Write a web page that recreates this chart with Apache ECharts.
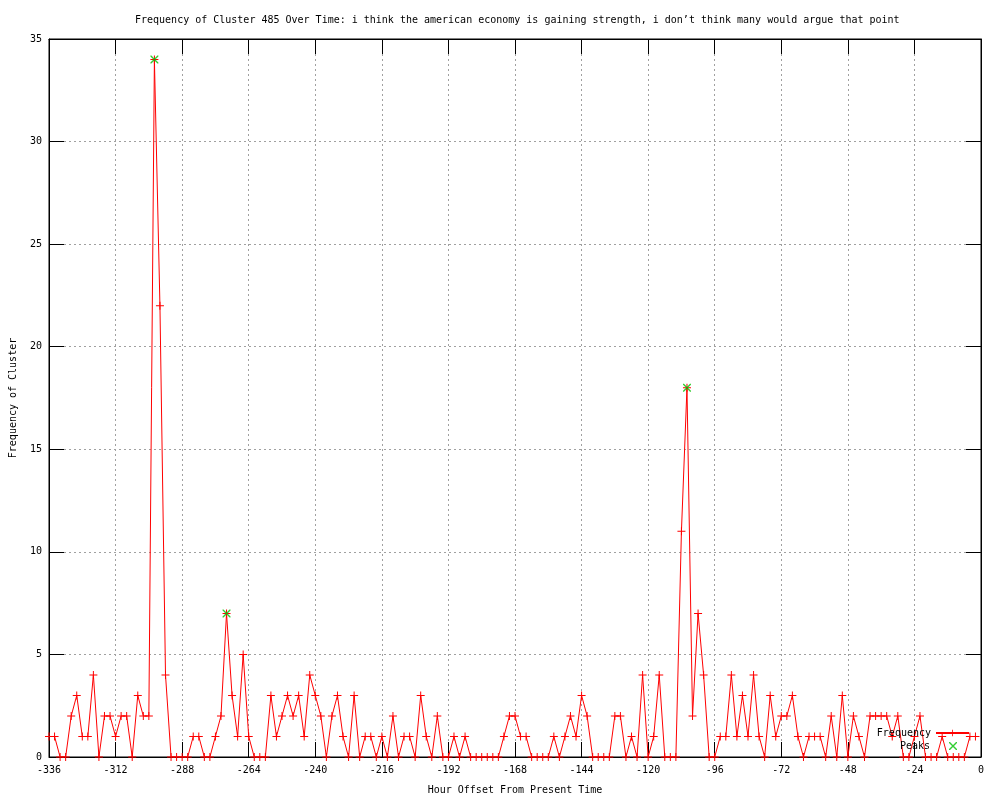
<!DOCTYPE html>
<html><head><meta charset="utf-8">
<script src="https://cdn.jsdelivr.net/npm/echarts@6/dist/echarts.min.js"></script>
<style>html,body{margin:0;padding:0;background:#fff}#c{width:1000px;height:800px}</style>
</head><body><div id="c"></div>
<script>
const titleText = "Frequency of Cluster 485 Over Time: i think the american economy is gaining strength, i don\u2019t think many would argue that point";
const xAxisName = "Hour Offset From Present Time";
const yAxisName = "Frequency of Cluster";

// sampling grid: one value every 2 hours, from -336 to -2
const HOUR_START = -336;
const HOUR_STEP = 2;
// frequency values
const freq = [
  1,1,0,0,2,3,1,1,4,0, 2,2,1,2,2,0,3,2,2,34,
  22,4,0,0,0,0,1,1,0,0, 1,2,7,3,1,5,1,0,0,0,
  3,1,2,3,2,3,1,4,3,2, 0,2,3,1,0,3,0,1,1,0,
  1,0,2,0,1,1,0,3,1,0, 2,0,0,1,0,1,0,0,0,0,
  0,0,1,2,2,1,1,0,0,0, 0,1,0,1,2,1,3,2,0,0,
  0,0,2,2,0,1,0,4,0,1, 4,0,0,0,11,18,2,7,4,0,
  0,1,1,4,1,3,1,4,1,0, 3,1,2,2,3,1,0,1,1,1,
  0,2,0,3,0,2,1,0,2,2, 2,2,1,2,0,0,1,2,0,0,
  0,1,0,0,0,0,1,1
];
const peakHours = [-298, -272, -106];
const peakValues = [34, 7, 18];

const xMin = -336, xMax = 0, xInterval = 24;
const yMin = 0, yMax = 35, yInterval = 5;

const FONT = "DejaVu Sans Mono";
const FS = 10;

const freqData = freq.map((v, i) => [HOUR_START + HOUR_STEP * i, v]);
const peakData = peakHours.map((h, i) => [h, peakValues[i]]);

const plusPath = 'path://M0,3.5H8V4.5H0Z M3.5,0H4.5V8H3.5Z';
const xPath = 'path://M0,0L1,0L8,7L8,8L7,8L0,1Z M7,0L8,0L8,1L1,8L0,8L0,7Z';

const txt = {color: '#000', fontFamily: FONT, fontSize: FS};
const tickStyle = {inside: true, length: 15, lineStyle: {color: '#000', width: 1}};
const gridLine = {show: true, lineStyle: {color: '#a0a0a0', type: [2, 3], width: 1}};

const chart = echarts.init(document.getElementById('c'), null, {renderer: 'canvas'});
chart.setOption({
  animation: false,
  backgroundColor: '#fff',
  title: {text: titleText, left: 130, top: 10, textStyle: Object.assign({fontWeight: 'normal'}, txt)},
  grid: {left: 49, right: 19, top: 39, bottom: 40, show: true, borderColor: '#000', borderWidth: 1, backgroundColor: 'transparent'},
  legend: [
    {data: ['Frequency'], right: 30, top: 728, align: 'right', itemWidth: 33, itemHeight: 8, padding: 0, textStyle: txt},
    {data: ['Peaks'], right: 43, top: 741, align: 'right', itemWidth: 8, itemHeight: 8, padding: 0,
     textStyle: Object.assign({padding: [0, 14, 0, 0]}, txt)}
  ],
  xAxis: [
    {type: 'value', position: 'bottom', min: xMin, max: xMax, interval: xInterval,
     axisLine: {show: true, onZero: false, lineStyle: {color: '#000'}},
     axisTick: tickStyle, axisLabel: Object.assign({margin: 8}, txt), splitLine: gridLine,
     name: xAxisName, nameLocation: 'middle', nameGap: 28, nameTextStyle: txt},
    {type: 'value', position: 'top', min: xMin, max: xMax, interval: xInterval,
     axisLine: {show: true, onZero: false, lineStyle: {color: '#000'}},
     axisTick: tickStyle, axisLabel: {show: false}, splitLine: {show: false}}
  ],
  yAxis: [
    {type: 'value', position: 'left', min: yMin, max: yMax, interval: yInterval,
     axisLine: {show: true, onZero: false, lineStyle: {color: '#000'}},
     axisTick: tickStyle, axisLabel: Object.assign({margin: 7}, txt), splitLine: gridLine,
     name: yAxisName, nameLocation: 'middle', nameRotate: 90, nameGap: 31, nameTextStyle: txt},
    {type: 'value', position: 'right', min: yMin, max: yMax, interval: yInterval,
     axisLine: {show: true, onZero: false, lineStyle: {color: '#000'}},
     axisTick: tickStyle, axisLabel: {show: false}, splitLine: {show: false}}
  ],
  series: [
    {type: 'line', name: 'Frequency', data: freqData, xAxisIndex: 0, yAxisIndex: 0,
     symbol: plusPath, symbolSize: 8, showAllSymbol: true,
     lineStyle: {color: '#ff0000', width: 1}, itemStyle: {color: '#ff0000'}, z: 3},
    {type: 'scatter', name: 'Peaks', data: peakData, xAxisIndex: 0, yAxisIndex: 0,
     symbol: xPath, symbolSize: 8, itemStyle: {color: '#00c000'}, z: 4}
  ]
});
</script>
</body></html>
